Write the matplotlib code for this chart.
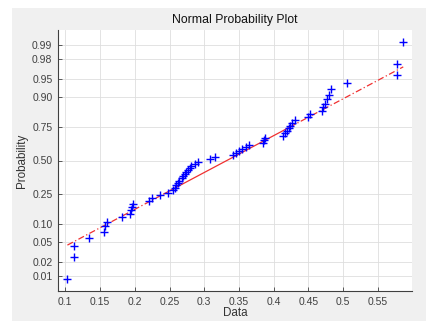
import numpy as np
import matplotlib
matplotlib.use("Agg")
import matplotlib.pyplot as plt
from matplotlib.patches import Rectangle
from statistics import NormalDist

# ---- data (sorted sample values) ----
data = [0.103, 0.112, 0.112, 0.134, 0.155, 0.157, 0.160, 0.181, 0.193, 0.194,
        0.1955, 0.197,
        0.221, 0.225, 0.236, 0.248, 0.255, 0.258, 0.260, 0.262, 0.264, 0.268,
        0.270, 0.272, 0.274, 0.2765, 0.279, 0.2815, 0.286, 0.291,
        0.308, 0.316,
        0.3415, 0.346, 0.350, 0.355, 0.360, 0.364, 0.384, 0.386, 0.388,
        0.4135, 0.416, 0.419, 0.422, 0.424, 0.427, 0.430,
        0.450, 0.452,
        0.469, 0.471, 0.4735, 0.476, 0.479, 0.482,
        0.505, 0.577, 0.578, 0.5865]
prob_ticks = [0.01, 0.02, 0.05, 0.10, 0.25, 0.50, 0.75, 0.90, 0.95, 0.98, 0.99]
prob_labels = ["0.01", "0.02", "0.05", "0.10", "0.25", "0.50", "0.75", "0.90", "0.95", "0.98", "0.99"]
x_ticks = [0.1, 0.15, 0.2, 0.25, 0.3, 0.35, 0.4, 0.45, 0.5, 0.55]

nd = NormalDist()
x = np.sort(np.array(data))
n = len(x)
pp = (np.arange(1, n + 1) - 0.5) / n
z = np.array([nd.inv_cdf(p) for p in pp])

plt.rcParams['font.family'] = ['Liberation Sans', 'DejaVu Sans']

fig = plt.figure(figsize=(4.27, 3.21), dpi=100, facecolor='white')
fig.patches.append(Rectangle((12 / 427, 0), 1, (321 - 8) / 321, transform=fig.transFigure,
                             facecolor='#f0f0f0', edgecolor='none', zorder=-10))
ax = fig.add_axes([58 / 427, 30 / 321, (412 - 58) / 427, (291 - 30) / 321])
ax.set_facecolor('white')

# reference line through quartiles
q1, q3 = np.percentile(x, [25, 75], method='hazen')
z1, z3 = nd.inv_cdf(0.25), nd.inv_cdf(0.75)
slope = (z3 - z1) / (q3 - q1)
f = lambda v: z1 + slope * (v - q1)
red = '#f03030'
ax.plot([q1, q3], [f(q1), f(q3)], color=red, lw=0.9, zorder=2)
ax.plot([x[0], q1], [f(x[0]), f(q1)], color=red, lw=0.9, ls=(0, (5, 2, 1, 2)), zorder=2)
ax.plot([q3, x[-1]], [f(q3), f(x[-1])], color=red, lw=0.9, ls=(0, (5, 2, 1, 2)), zorder=2)

ax.plot(x, z, linestyle='none', marker='+', color='#0000ff', markersize=6, mew=1.0, zorder=3)

rng = x[-1] - x[0]
ax.set_xlim(x[0] - 0.028 * rng, x[-1] + 0.026 * rng)
zl = nd.inv_cdf(1 - 0.25 / n)
ax.set_ylim(-zl, zl)

ax.set_yticks([nd.inv_cdf(p) for p in prob_ticks])
ax.set_yticklabels(prob_labels)
ax.set_xticks(x_ticks)
ax.set_xticklabels(["%g" % t for t in x_ticks])

ax.grid(True, color='#dedede', lw=0.6)
ax.set_axisbelow(True)
for s in ['top', 'right']:
    ax.spines[s].set_visible(False)
for s in ['left', 'bottom']:
    ax.spines[s].set_color('#404040')
    ax.spines[s].set_linewidth(0.8)
ax.tick_params(direction='in', length=3, width=0.6, color='#404040',
               labelcolor='#404040', labelsize=7.5, pad=4)

ax.set_title("Normal Probability Plot", fontsize=8.8, color='#111111', pad=5)
ax.set_xlabel("Data", fontsize=8.4, color='#333333', labelpad=0.5)
ax.set_ylabel("Probability", fontsize=8.4, color='#333333', labelpad=3)

fig.savefig("out.png", dpi=100, facecolor=fig.get_facecolor())
